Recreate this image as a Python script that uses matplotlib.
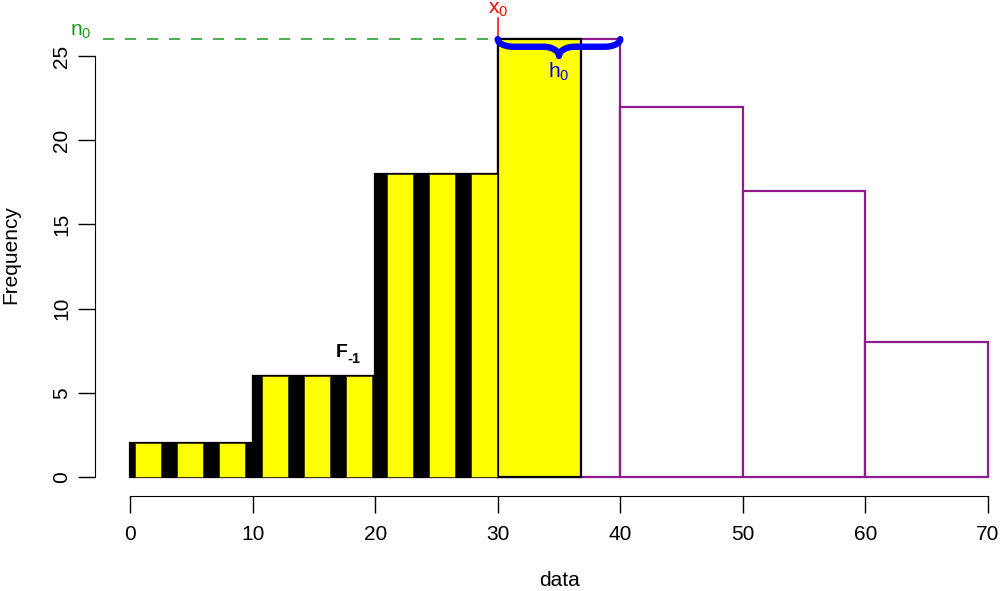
import numpy as np
import matplotlib
matplotlib.use('Agg')
import matplotlib.pyplot as plt

# histogram data
bin_edges = [0, 10, 20, 30, 40, 50, 60, 70]
counts = [2, 6, 18, 26, 22, 17, 8]

# striped cumulative bins (first three classes)
striped_bins = [0, 1, 2]
stripe_offsets = [0.4, 0.75, 1.0]   # where first yellow stripe starts inside each bin
stripe_width = 2.1
stripe_period = 3.43
n_stripes = 3

# modal class partial bar
modal_idx = 3
modal_right = 36.8

xticks = [0, 10, 20, 30, 40, 50, 60, 70]
yticks = [0, 5, 10, 15, 20, 25]

purple = '#8E1C8E'
green = '#1f971f'

plt.rcParams['font.family'] = ['Liberation Sans', 'DejaVu Sans']
plt.rcParams['mathtext.fontset'] = 'custom'
plt.rcParams['mathtext.rm'] = 'Liberation Sans'
plt.rcParams['mathtext.it'] = 'Liberation Sans:italic'
plt.rcParams['mathtext.bf'] = 'Liberation Sans:bold'

fig = plt.figure(figsize=(10, 5.91), dpi=100)
W, H = 1000, 591
# pixel mapping: x 0 -> 130px, 70 -> 988px ; y 0 -> 477px, 25 -> 56px
sx = (988 - 130) / 70
sy = (477 - 56) / 25
left_px, right_px, top_px, bot_px = 95, 1000, 0, 496
ax = fig.add_axes([left_px / W, 1 - bot_px / H, (right_px - left_px) / W, (bot_px - top_px) / H])
ax.set_xlim((left_px - 130) / sx, (right_px - 130) / sx)
ax.set_ylim((477 - bot_px) / sy, (477 - top_px) / sy)

widths = np.diff(bin_edges)
ax.bar(bin_edges[:-1], counts, width=widths, align='edge', facecolor='white',
       edgecolor=purple, linewidth=1.6, zorder=2)

for b in striped_bins:
    x0 = bin_edges[b]
    ax.bar(x0, counts[b], width=widths[b], align='edge', facecolor='black',
           edgecolor='black', linewidth=1.5, zorder=3)
    starts = x0 + stripe_offsets[b] + stripe_period * np.arange(n_stripes)
    ends = np.minimum(starts + stripe_width, bin_edges[b + 1])
    ax.bar(starts, [counts[b]] * n_stripes, width=ends - starts, align='edge',
           facecolor='yellow', edgecolor='#333300', linewidth=0.6, zorder=4)

x_mode = bin_edges[modal_idx]
n_mode = counts[modal_idx]
h_mode = widths[modal_idx]
ax.bar(x_mode, n_mode, width=modal_right - x_mode, align='edge', facecolor='yellow',
       edgecolor='black', linewidth=1.6, zorder=3)

# dashed n0 line
ax.plot([-2.2, x_mode], [n_mode, n_mode], color=green,
        linestyle=(0, (7.2, 7.2)), linewidth=1.1, zorder=5)
ax.text(-4.0, n_mode + 0.45, r'n$_0$', color=green, fontsize=15, ha='center', va='center')

# x0 marker
ax.plot([x_mode, x_mode], [n_mode, n_mode + 1.25], color='red', linewidth=1.1, zorder=5)
ax.text(x_mode, 28.35, r'x$_0$', color='red', fontsize=15, ha='center', va='top')


def brace(xa, xb, y, rx, ry, ry2):
    th = np.linspace(0, np.pi / 2, 30)
    xm = (xa + xb) / 2
    # left end hook
    x1 = xa + rx - rx * np.cos(th)
    y1 = y - ry * np.sin(th)
    # left half cusp
    x2 = xm - rx + rx * np.sin(th)
    y2 = y - ry - ry2 + ry2 * np.cos(th)
    xs = np.concatenate([x1, x2])
    ys = np.concatenate([y1, y2])
    xs = np.concatenate([xs, (2 * xm - xs)[::-1]])
    ys = np.concatenate([ys, ys[::-1]])
    return xs, ys


bx, by = brace(x_mode, x_mode + h_mode, n_mode, 1.3, 0.45, 0.55)
ax.plot(bx, by, color='blue', linewidth=4.6, solid_capstyle='round',
        solid_joinstyle='round', zorder=6)
ax.text(x_mode + h_mode / 2, 24.05, r'h$_0$', color='blue', fontsize=15, ha='center', va='center')

# F_-1 label
ax.text(17.25, 7.4, 'F', fontsize=14, fontweight='bold', ha='center', va='center')
ax.text(18.3, 6.98, '-1', fontsize=10.5, fontweight='bold', ha='center', va='center')

for s in ['top', 'right']:
    ax.spines[s].set_visible(False)
ax.spines['left'].set_bounds(0, 25)
ax.spines['bottom'].set_bounds(0, 70)
ax.set_xticks(xticks)
ax.set_yticks(yticks)
ax.tick_params(axis='both', length=12, width=1, labelsize=15)
ax.tick_params(axis='x', pad=9)
ax.tick_params(axis='y', pad=5)
for lbl in ax.get_yticklabels():
    lbl.set_rotation(90)
    lbl.set_va('center')
ax.patch.set_visible(False)

fig.text(11 / W, 1 - 255 / H, 'Frequency', rotation=90, ha='center', va='center', fontsize=15)
fig.text((130 + 35 * sx) / W, 1 - 580 / H, 'data', ha='center', va='center', fontsize=15)

fig.savefig('out.png', dpi=100)
